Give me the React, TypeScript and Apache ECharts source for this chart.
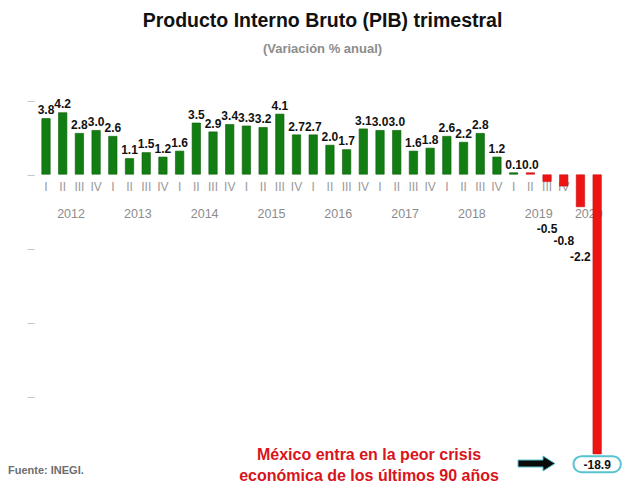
import React, { useEffect, useRef } from "react";
import * as echarts from "echarts";

const quarters = [
  "I", "II", "III", "IV", "I", "II", "III", "IV", "I", "II", "III", "IV",
  "I", "II", "III", "IV", "I", "II", "III", "IV", "I", "II", "III", "IV",
  "I", "II", "III", "IV", "I", "II", "III", "IV", "I", "II",
];
const values = [
  3.8, 4.2, 2.8, 3.0, 2.6, 1.1, 1.5, 1.2, 1.6, 3.5, 2.9, 3.4,
  3.3, 3.2, 4.1, 2.7, 2.7, 2.0, 1.7, 3.1, 3.0, 3.0, 1.6, 1.8,
  2.6, 2.2, 2.8, 1.2, 0.1, 0.0, -0.5, -0.8, -2.2, -18.9,
];
const years = ["2012", "2013", "2014", "2015", "2016", "2017", "2018", "2019", "2020"];
const yearGroupSizes = [4, 4, 4, 4, 4, 4, 4, 4, 2];
const yAxisMin = -20;
const yAxisMax = 5;
const yAxisStep = 5;

const titleText = "Producto Interno Bruto (PIB) trimestral";
const subtitleText = "(Variación % anual)";
const sourceText = "Fuente: INEGI.";
const noteLines = ["México entra en la peor crisis", "económica de los últimos 90 años"];

const FONT = "Arial, 'Liberation Sans', Helvetica, sans-serif";
const GREEN = "#127d12";
const RED = "#ee1414";

const GRID_TOP = 100.5;
const GRID_BOTTOM = 20.5;
const CHART_H = 491;

// year label slots on a boundary axis (35 boundaries for 34 bars)
function buildYearSlots(): string[] {
  const slots: string[] = new Array(quarters.length + 1).fill("");
  let start = 0;
  years.forEach((y, k) => {
    const size = yearGroupSizes[k];
    slots[start + Math.round(size / 2)] = y;
    start += size;
  });
  return slots;
}

const negLabelDistance: Record<number, number> = { 30: 41, 31: 49, 32: 44 };

export default function App() {
  const ref = useRef<HTMLDivElement>(null);
  useEffect(() => {
    if (!ref.current) return;
    const chart = echarts.init(ref.current, null, { renderer: "svg" });
    const lastIdx = values.length - 1;
    const data = values.map((v, i) => {
      const item: any = {
        value: v,
        itemStyle: {
          color: v > 0 ? GREEN : RED,
          borderColor: v > 0 ? "#0c5f0c" : "#c80e0e",
          borderWidth: 0.6,
        },
      };
      if (v < 0) {
        if (i === lastIdx) {
          item.label = {
            position: "bottom",
            distance: 3,
            fontSize: 12,
            lineHeight: 13,
            padding: [1, 9, 0, 9],
            backgroundColor: "#fff",
            borderColor: "#56c4cf",
            borderWidth: 2,
            borderRadius: 8,
          };
        } else {
          item.label = { position: "bottom", distance: negLabelDistance[i] ?? 4 };
        }
      }
      return item;
    });

    // place the category axes on the zero line of the value axis
    const gridH = CHART_H - GRID_TOP - GRID_BOTTOM;
    const zeroOffset = -gridH * (0 - yAxisMin) / (yAxisMax - yAxisMin);

    const option: any = {
      animation: false,
      grid: {
        left: 37.65,
        right: 22.5,
        top: GRID_TOP,
        bottom: GRID_BOTTOM,
        containLabel: false,
        outerBoundsMode: "none",
      },
      xAxis: [
        {
          type: "category",
          data: quarters,
          position: "bottom",
          offset: zeroOffset,
          axisLine: { show: false, onZero: false },
          axisTick: { show: false },
          axisLabel: { interval: 0, margin: 6, fontSize: 12, color: "#9a9a9a", fontFamily: FONT },
          splitLine: { show: false },
        },
        {
          type: "category",
          data: buildYearSlots(),
          boundaryGap: false,
          position: "bottom",
          offset: zeroOffset,
          axisLine: { show: false, onZero: false },
          axisTick: { show: false },
          axisLabel: { interval: 0, margin: 33, fontSize: 12.5, color: "#8c8c8c", fontFamily: FONT },
          splitLine: { show: false },
        },
      ],
      yAxis: {
        type: "value",
        min: yAxisMin,
        max: yAxisMax,
        interval: yAxisStep,
        axisLine: { show: false },
        axisTick: { show: false },
        splitLine: { show: false },
        axisLabel: {
          margin: 3,
          fontSize: 13,
          color: "#c4c4c4",
          formatter: (v: number) => (v > yAxisMin ? "–" : ""),
        },
      },
      series: [
        {
          type: "bar",
          xAxisIndex: 0,
          data,
          barWidth: 9,
          barMinHeight: 2,
          z: 5,
          label: {
            show: true,
            position: "top",
            distance: 2,
            fontSize: 12,
            fontWeight: "bold",
            color: "#111",
            fontFamily: FONT,
            formatter: (p: any) => Number(p.value).toFixed(1),
          },
        },
      ],
      graphic: [
        {
          type: "text",
          x: 322.5,
          y: 20,
          style: {
            text: titleText,
            textAlign: "center",
            textVerticalAlign: "middle",
            font: `bold 19.5px ${FONT}`,
            fill: "#111",
          },
        },
        {
          type: "text",
          x: 322.5,
          y: 48,
          style: {
            text: subtitleText,
            textAlign: "center",
            textVerticalAlign: "middle",
            font: `bold 13px ${FONT}`,
            fill: "#8c8c8c",
          },
        },
        {
          type: "text",
          x: 8,
          y: 470,
          style: {
            text: sourceText,
            textAlign: "left",
            textVerticalAlign: "middle",
            font: `bold 11px ${FONT}`,
            fill: "#6e6e6e",
          },
        },
        {
          type: "text",
          x: 369,
          y: 454,
          style: {
            text: noteLines[0],
            textAlign: "center",
            textVerticalAlign: "middle",
            font: `bold 16px ${FONT}`,
            fill: "#d8141c",
          },
        },
        {
          type: "text",
          x: 369,
          y: 475,
          style: {
            text: noteLines[1],
            textAlign: "center",
            textVerticalAlign: "middle",
            font: `bold 16px ${FONT}`,
            fill: "#d8141c",
          },
        },
        {
          type: "polygon",
          shape: {
            points: [
              [518, 460],
              [543, 460],
              [543, 456],
              [555, 463.5],
              [543, 471],
              [543, 467],
              [518, 467],
            ],
          },
          style: { fill: "#0a0a0a", stroke: "#56c4cf", lineWidth: 1 },
        },
      ],
    };
    chart.setOption(option);
    return () => chart.dispose();
  }, []);
  return (
    <div
      ref={ref}
      style={{ position: "absolute", left: 0, top: 0, width: 628, height: 491, background: "#fff" }}
    />
  );
}
